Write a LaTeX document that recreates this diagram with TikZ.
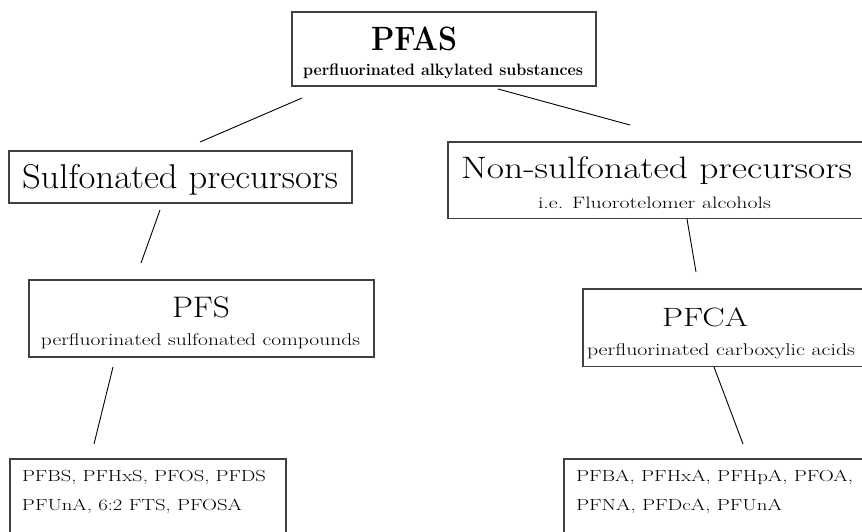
\documentclass[tikz,border=0pt]{standalone}
\usepackage{fontspec}
\usepackage{graphicx}
\tikzset{
  box/.style={draw=black!75, line width=1.1pt, rectangle, inner sep=0pt, outer sep=0pt},
  lbl/.style={anchor=base west, inner sep=0pt, outer sep=0pt},
  link/.style={line width=0.9pt, black},
}
\newcommand{\fitt}[3]{\resizebox{#1pt}{\height}{\fontsize{#2}{#2}\selectfont #3}}
\begin{document}
\begin{tikzpicture}[x=1pt,y=-1pt]
\useasboundingbox (0,0) rectangle (862,531);
\clip (0,0) rectangle (862,531);
% boxes
\node[box, minimum width=304pt, minimum height=74pt] (pfasbox) at (444,49) {};
\node[box, minimum width=343pt, minimum height=52pt] (sulfbox) at (180.5,177) {};
\node[box, minimum width=345pt, minimum height=77pt] (pfsbox) at (201.5,318.5) {};
\node[box, minimum width=432pt, minimum height=76.5pt] (nonbox) at (664,180.25) {};
\node[box, minimum width=297pt, minimum height=77.5pt] (pfcabox) at (731.5,327.75) {};
\node[box, minimum width=276pt, minimum height=101pt] (blbox) at (148,509.5) {};
\node[box, minimum width=316pt, minimum height=101pt] (brbox) at (722,509.5) {};
% texts
\node[lbl] (t1) at (371,50) {\fitt{86}{33.7}{\bfseries PFAS}};
\node[lbl] (t2) at (303,75.5) {\fitt{280}{16.5}{\bfseries perfluorinated alkylated substances}};
\node[lbl] (t3) at (22,188.5) {\fitt{316}{34.4}{Sulfonated precursors}};
\node[lbl] (t4) at (172,317) {\fitt{58}{29.7}{PFS}};
\node[lbl] (t5) at (41,345.5) {\fitt{319}{17}{perfluorinated sulfonated compounds}};
\node[lbl] (t6) at (461,178) {\fitt{391}{31}{Non-sulfonated precursors}};
\node[lbl] (t7) at (538,208) {\fitt{233}{16.5}{i.e. Fluorotelomer alcohols}};
\node[lbl] (t8) at (662,326) {\fitt{86}{26.5}{PFCA}};
\node[lbl] (t9) at (587,355) {\fitt{268}{17}{perfluorinated carboxylic acids}};
\node[lbl] (t10) at (22,481.5) {\fitt{244}{16}{PFBS, PFHxS, PFOS, PFDS}};
\node[lbl] (t11) at (22,510.5) {\fitt{220}{16}{PFUnA, 6:2 FTS, PFOSA}};
\node[lbl] (t12) at (576,481.5) {\fitt{277}{16}{PFBA, PFHxA, PFHpA, PFOA,}};
\node[lbl] (t13) at (576,510.5) {\fitt{206}{16}{PFNA, PFDcA, PFUnA}};
% connector ends
\coordinate (a1) at (302,98);   \coordinate (a2) at (200,142);
\coordinate (b1) at (498,89);   \coordinate (b2) at (630,125);
\coordinate (c1) at (160,210);  \coordinate (c2) at (141,263);
\coordinate (d1) at (113,367);  \coordinate (d2) at (94,444);
\coordinate (e1) at (687,219);  \coordinate (e2) at (696,272);
\coordinate (f1) at (714,367);  \coordinate (f2) at (743,444);
\draw[link] (a1) -- (a2);
\draw[link] (b1) -- (b2);
\draw[link] (c1) -- (c2);
\draw[link] (d1) -- (d2);
\draw[link] (e1) -- (e2);
\draw[link] (f1) -- (f2);
\end{tikzpicture}
\end{document}
